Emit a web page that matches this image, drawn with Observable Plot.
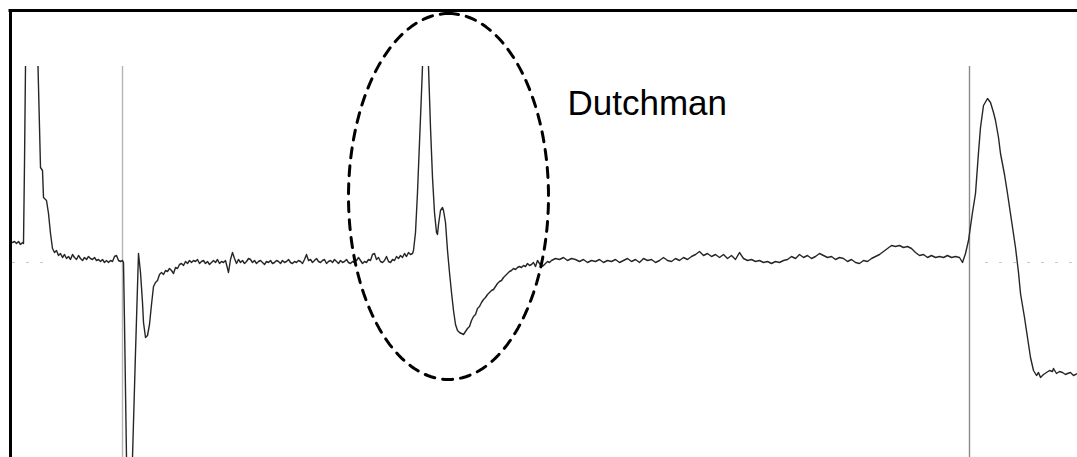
<!DOCTYPE html>
<html>
<head>
<meta charset="utf-8">
<script src="https://cdn.jsdelivr.net/npm/d3@7"></script>
<script src="https://cdn.jsdelivr.net/npm/@observablehq/plot@0.6"></script>
<style>
  html, body { margin: 0; padding: 0; background: #fff; }
  #chart svg { display: block; }
</style>
</head>
<body>
<div id="chart"></div>
<script>
// Trace samples: [time position, amplitude] (amplitude 0 = resting baseline, positive up)
const trace = [
  [12,20],[14,21],[16,19],[18,21],[20,18],[22,20],[23,19],[24,99],[25,196],[26,250],[36,250],[37.5,196],
  [40,95],[42,92],[43,65],[46,62],[48,49],[50,29],[52,14],
  [54,10],[56,12],[58,7],[60,9],[62,5],[64,8],[66,4],[68,6],[70,3],[72,8],[74,5],[76,3],[78,7],[80,4],
  [82,2],[84,5],[86,3],[88,6],[90,4],[92,3],[94,5],[96,2],[98,3],[100,1],[102,3],[104,0],[106,2],[108,0],
  [110,2],[112,1],[114,6],[116,7],[118,2],[120,1],[122,2],[123,0],
  [124,-60],[126,-195],[127,-240],[130,-240],[132,-195],[135,-90],[138,9],
  [140,-10],[142,-40],[143,-60],[145,-75],[147,-73],[149,-62],[151,-42],[153,-24],[155,-20],[157,-18],
  [159,-12],[161,-10],[163,-12],[165,-8],[167,-9],[169,-6],[171,-8],[173,-11],[175,-5],[177,-6],[179,-2],
  [181,-1],[183,-3],[185,1],[187,-1],[189,2],[191,0],[193,2],[195,1],[197,3],[199,-1],[201,1],[203,2],
  [205,-1],[207,1],[209,-2],[211,0],[213,2],[215,0],[217,3],[219,-1],[221,1],[223,0],[225,2],[227,-6],
  [228,-10],[230,3],[232,10],[234,4],[236,-1],[238,3],[240,0],[242,2],[244,-1],[246,1],[248,4],[250,3],
  [252,0],[254,2],[256,-1],[258,1],[260,2],[262,0],[264,-2],[266,1],[268,0],[270,2],[272,-1],[274,0],
  [276,2],[278,1],[280,-1],[282,2],[284,0],[286,1],[288,3],[290,0],[292,-1],[294,1],[296,0],[298,2],
  [300,1],[302,-1],[304,3],[306,8],[308,2],[310,3],[312,0],[314,2],[316,4],[318,1],[320,0],[322,2],
  [324,3],[326,-1],[328,1],[330,2],[332,0],[334,3],[336,1],[338,-1],[340,2],[342,0],[344,1],[346,3],
  [348,0],[350,-1],[352,1],[354,0],[356,2],[358,5],[360,2],[362,-1],[364,1],[366,0],[368,3],[370,2],
  [372,8],[374,9],[376,3],[378,5],[380,1],[382,0],[384,2],[386,6],[388,1],[390,0],[392,3],[394,2],
  [396,6],[398,4],[400,7],[402,5],[404,9],[406,6],[408,10],[410,8],[412,9],
  [413,12],[415,30],[417,70],[419,120],[421,170],[422,196],[423,250],[427,250],[428,196],[430,135],
  [432,85],[434,50],[436,30],[437,28],[438,38],[440,52],[442,55],[443,52],[445,40],[447,12],[449,-10],
  [451,-30],[453,-48],[455,-62],[457,-68],[459,-70],[461,-71],[463,-72],[465,-69],[467,-66],[469,-64],
  [471,-58],[473,-54],[475,-52],[477,-46],[479,-44],[481,-40],[483,-37],[485,-35],[487,-32],[489,-30],
  [491,-28],[493,-27],[495,-24],[497,-21],[499,-19],[501,-18],[503,-15],[505,-13],[507,-11],[509,-9],
  [511,-8],[513,-6],[515,-7],[517,-5],[519,-4],[521,-5],[523,-3],[525,-4],[527,-1],[529,-3],[531,-2],
  [533,0],[535,-4],[537,2],[539,-1],[541,-4],[543,-3],[545,-1],[547,1],[549,0],
  [551,2],[555,4],[559,3],[563,5],[567,2],[571,4],[575,3],[579,1],[583,3],[587,0],[591,2],[595,1],
  [599,3],[603,0],[607,2],[611,1],[615,3],[619,0],[623,2],[627,4],[631,1],[635,3],[639,0],[643,4],
  [647,2],[651,3],[655,0],[659,2],[663,5],[667,2],[671,1],[675,4],[679,2],[683,5],[687,3],[691,6],
  [695,8],[699,11],[703,7],[707,9],[711,6],[715,8],[719,5],[723,8],[727,4],[731,7],[735,3],[739,10],
  [743,4],[747,2],[751,3],[755,1],[759,2],[763,0],[767,1],[771,-1],[775,1],[779,0],[783,2],[787,3],
  [791,6],[795,4],[799,8],[803,5],[807,7],[811,4],[815,6],[819,9],[823,7],[827,5],[831,6],[835,3],
  [839,5],[843,4],[847,1],[851,3],[855,0],[859,-1],[863,2],[867,1],[871,4],[875,6],[879,8],[883,11],
  [887,14],[891,17],[895,16],[899,17],[903,15],[907,16],[911,14],[915,10],[919,7],[923,8],[927,5],
  [931,7],[935,5],[939,6],[943,5],[947,7],[951,5],[955,6],[959,5],[962,0],
  [965,9],[968,22],[972,50],[975,69],[978,110],[980,135],[983,157],[987,164],[990,160],[993,150],
  [995,142],[998,125],[1000,109],[1004,88],[1007,69],[1011,42],[1015,15],[1018,-10],[1020,-31],
  [1024,-55],[1027,-75],[1030,-95],[1033,-108],[1036,-113],[1038,-110],[1040,-115],[1043,-112],
  [1046,-110],[1049,-108],[1052,-109],[1053,-106],[1056,-111],[1059,-109],[1062,-110],[1065,-112],
  [1067,-111],[1070,-110],[1073,-113],[1077,-111]
];

// Event marker positions (vertical lines)
const markerX = [122, 969];
const markerColors = ["#b4b4b4", "#8a8a8a"];

// Baseline dotted segments visible at the edges
const baselineSegments = [[12, 48], [985, 1077]];

// Annotation: ellipse around the Dutchman feature and its label
const annotation = { label: "Dutchman", labelX: 567, labelY: 159, cx: 448, cy: 66, rx: 100, ry: 183 };

// Chart frame (top & left borders) in data units
const frameTop = 252, frameLeft = 10, xMax = 1077, yMin = -195, yMax = 196;

const data = trace.map(([x, y]) => ({ x, y }));
const ellipse = d3.range(0, 361, 2).map(a => {
  const t = a * Math.PI / 180;
  return { x: annotation.cx + annotation.rx * Math.sin(t), y: annotation.cy + annotation.ry * Math.cos(t) };
});

const chart = Plot.plot({
  width: 1077,
  height: 457,
  marginTop: 66,
  marginBottom: 0,
  marginLeft: 0,
  marginRight: 0,
  x: { domain: [0, xMax], axis: null },
  y: { domain: [yMin, yMax], axis: null },
  style: { background: "#fff", fontFamily: "'Liberation Sans', Arial, sans-serif" },
  marks: [
    Plot.ruleY(baselineSegments, { y: () => 0, x1: d => d[0], x2: d => d[1], stroke: "#c8c8c8", strokeWidth: 1.2, strokeDasharray: "3,11" }),
    Plot.ruleX(markerX, { x: d => d, stroke: (d, i) => markerColors[i], strokeWidth: 1.4 }),
    Plot.line(data, { x: "x", y: "y", stroke: "#262626", strokeWidth: 1.4, clip: true }),
    Plot.line(ellipse, { x: "x", y: "y", stroke: "#000", strokeWidth: 3, strokeDasharray: "10,8" }),
    Plot.text([annotation], { x: "labelX", y: "labelY", text: "label", textAnchor: "start", fontSize: 35, fill: "#000" }),
    Plot.ruleY([frameTop], { x1: frameLeft - 1.5, x2: xMax, stroke: "#000", strokeWidth: 3 }),
    Plot.ruleX([frameLeft], { y1: frameTop, y2: yMin, stroke: "#000", strokeWidth: 3 })
  ]
});
document.getElementById("chart").appendChild(chart);
</script>
</body>
</html>
